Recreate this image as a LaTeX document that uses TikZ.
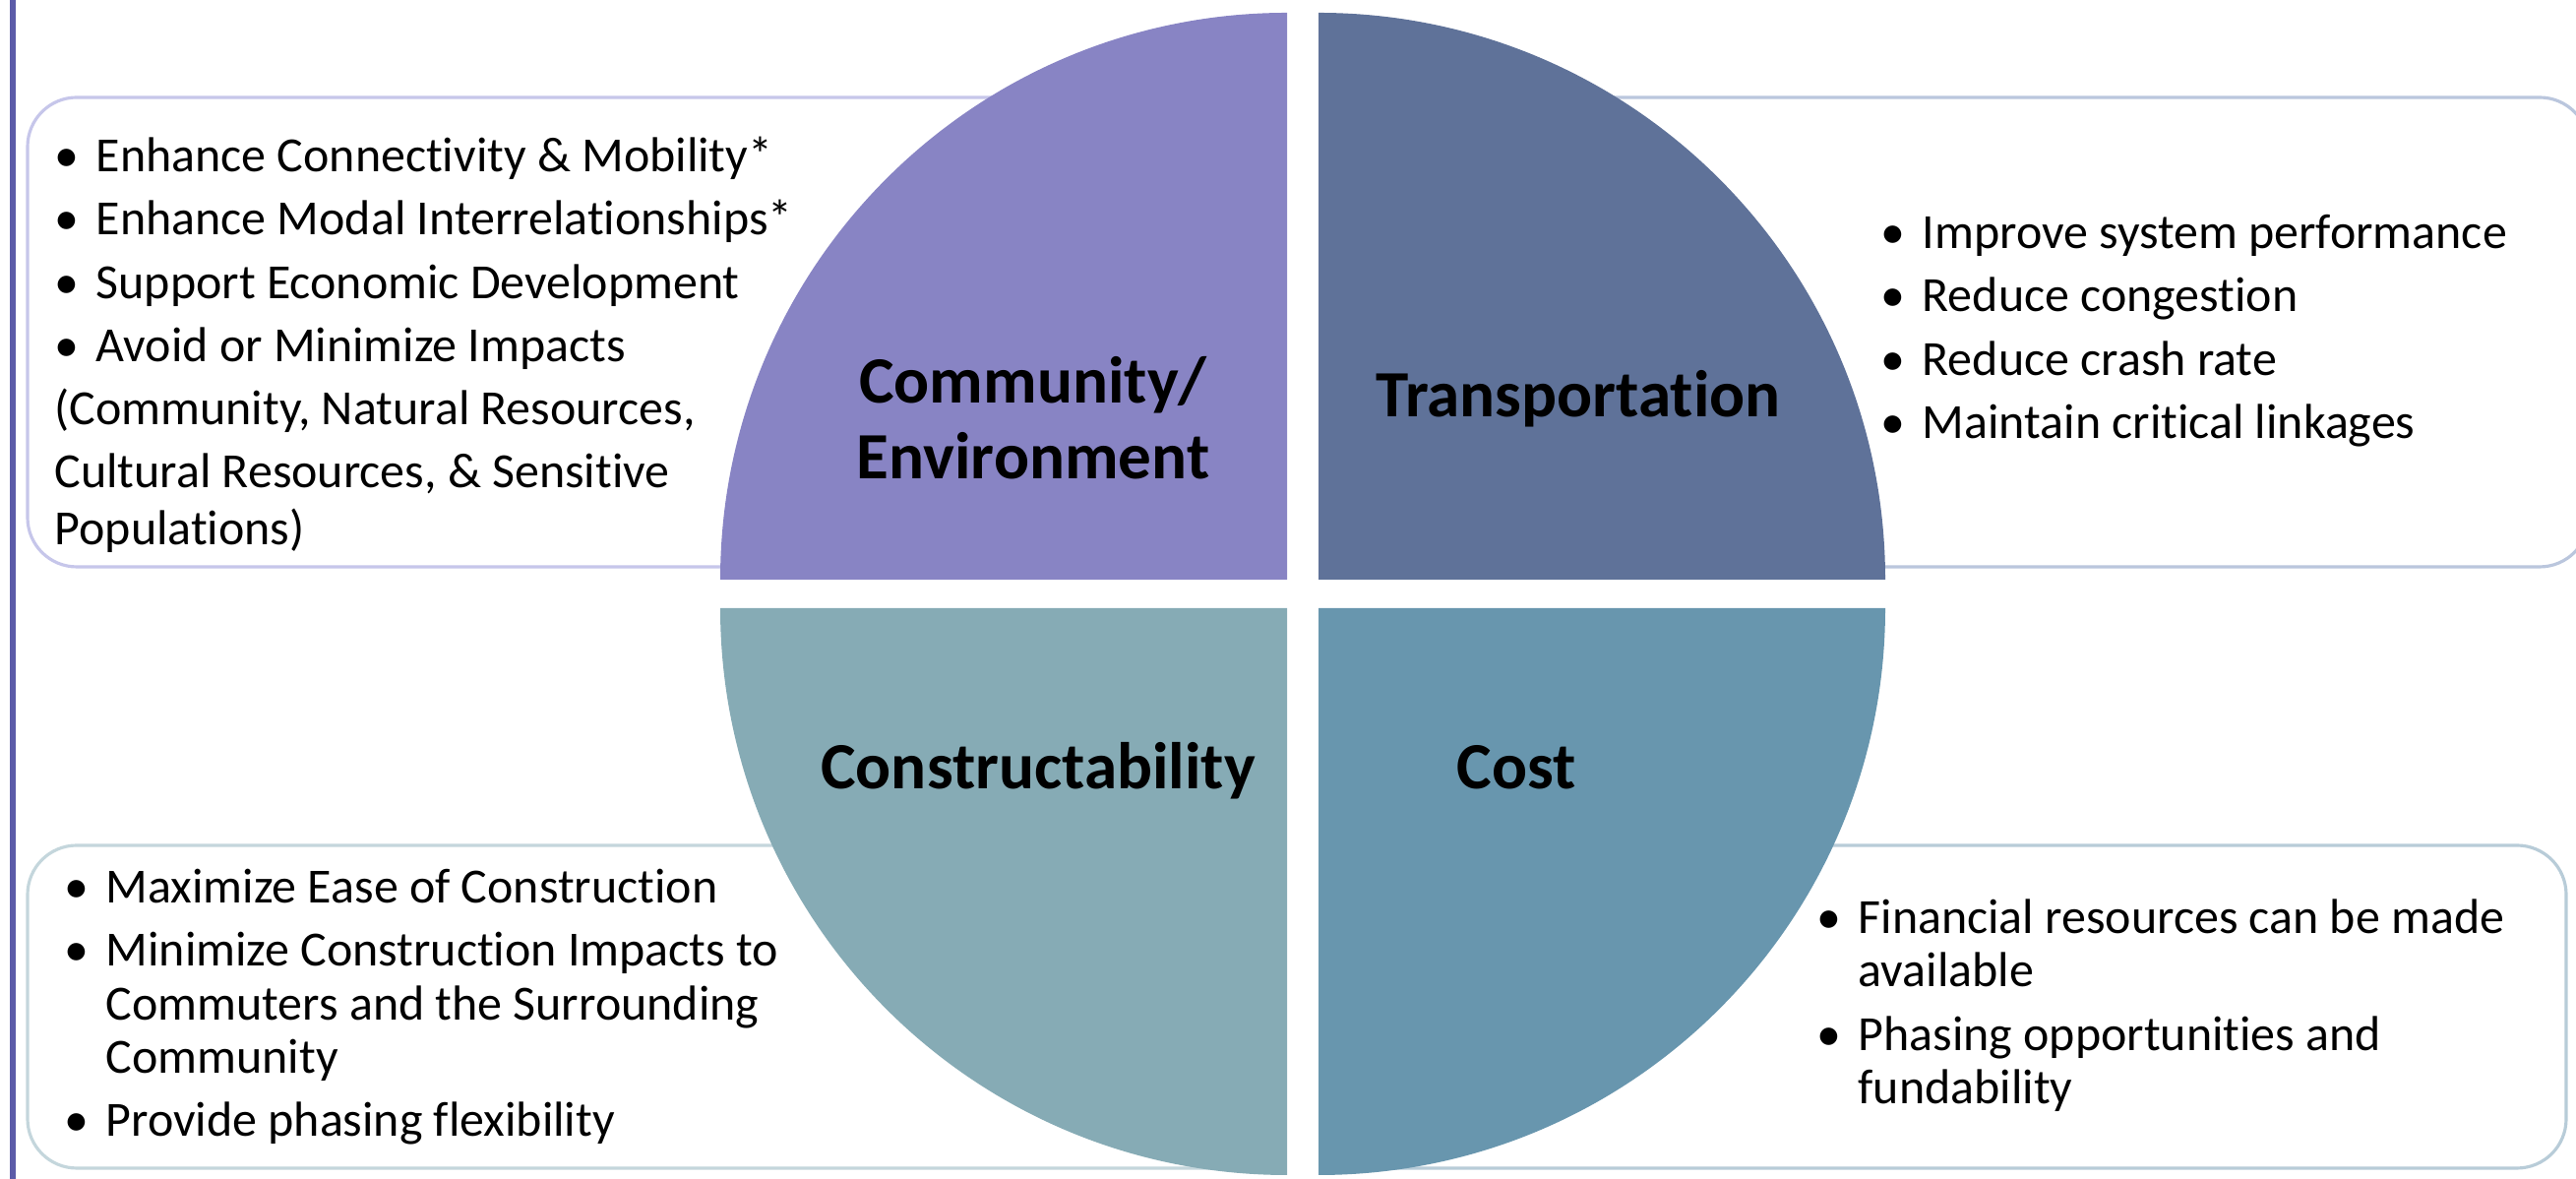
\documentclass[tikz,border=0pt]{standalone}
\usepackage{fontspec}
\setmainfont{Carlito}[Ligatures=NoCommon]
\usepackage{tikz}
\definecolor{commcol}{HTML}{8884C4}
\definecolor{transcol}{HTML}{5F7299}
\definecolor{constcol}{HTML}{86ABB5}
\definecolor{costcol}{HTML}{6896AE}
\definecolor{edgecomm}{HTML}{C6C6EA}
\definecolor{edgetrans}{HTML}{BAC6DD}
\definecolor{edgeconst}{HTML}{C4D6DC}
\definecolor{edgecost}{HTML}{B8CCD8}
\definecolor{barcol}{HTML}{5B5BA8}
\newcommand{\bul}{\makebox[0.42cm][l]{\textbullet}}
\newcommand{\hang}{\hspace*{0.42cm}}
\newcommand{\tp}{\rule{0pt}{0.5cm}}

\begin{document}
\begin{tikzpicture}[x=0.01cm, y=0.01cm,
	listbox/.style={line width=0.9pt, fill=white, rounded corners=0.5cm},
	bodytext/.style={inner sep=0pt, anchor=north west, align=left, font=\fontsize{14.2pt}{15.4pt}\selectfont},
	headtext/.style={inner sep=0pt, align=center, font=\fontsize{19.1pt}{21.9pt}\selectfont\bfseries}]
	\useasboundingbox (0,0) rectangle (2618,1198);
	\fill [barcol] (10,0) rectangle (16,1198);
	\draw [listbox, draw=edgecomm] (28,622) rectangle (1300,1099);
	\draw [listbox, draw=edgetrans] (1350,622) rectangle (2631,1099);
	\draw [listbox, draw=edgeconst] (28,11) rectangle (1300,339);
	\draw [listbox, draw=edgecost] (1350,11) rectangle (2608,339);
	\fill [commcol] (1308,609) -- (732,609) arc [start angle=180, end angle=90, radius=576] -- cycle;
	\fill [transcol] (1340,609) -- (1340,1185) arc [start angle=90, end angle=0, radius=576] -- cycle;
	\fill [constcol] (1308,580) -- (1308,4) arc [start angle=270, end angle=180, radius=576] -- cycle;
	\fill [costcol] (1340,580) -- (1916,580) arc [start angle=0, end angle=-90, radius=576] -- cycle;
	\node [headtext, anchor=north] (commtitle) at (1050,859) {\rule{0pt}{0.7cm}Community/\\Environment};
	\node [headtext, anchor=base] (transtitle) at (1604,774) {Transportation};
	\node [headtext, anchor=base] (consttitle) at (1055,396) {Constructability};
	\node [headtext, anchor=base] (costtitle) at (1541,396) {Cost};
	\node [bodytext] (commlist) at (55,1074) {\bul\tp Enhance Connectivity \& Mobility*\\[0.1cm]
		\bul Enhance Modal Interrelationships*\\[0.1cm]
		\bul Support Economic Development\\[0.1cm]
		\bul Avoid or Minimize Impacts\\[0.1cm]
		(Community, Natural Resources,\\[0.1cm]
		Cultural Resources, \& Sensitive\\[0.04cm]
		Populations)};
	\node [bodytext] (translist) at (1911,996) {\bul\tp Improve system performance\\[0.1cm]
		\bul Reduce congestion\\[0.1cm]
		\bul Reduce crash rate\\[0.1cm]
		\bul Maintain critical linkages};
	\node [bodytext] (constlist) at (65,331) {\bul\tp Maximize Ease of Construction\\[0.1cm]
		\bul Minimize Construction Impacts to\\
		\hang Commuters and the Surrounding\\
		\hang Community\\[0.1cm]
		\bul Provide phasing flexibility};
	\node [bodytext] (costlist) at (1846,300) {\bul\tp Financial resources can be made\\
		\hang available\\[0.1cm]
		\bul Phasing opportunities and\\
		\hang fundability};
\end{tikzpicture}
\end{document}
